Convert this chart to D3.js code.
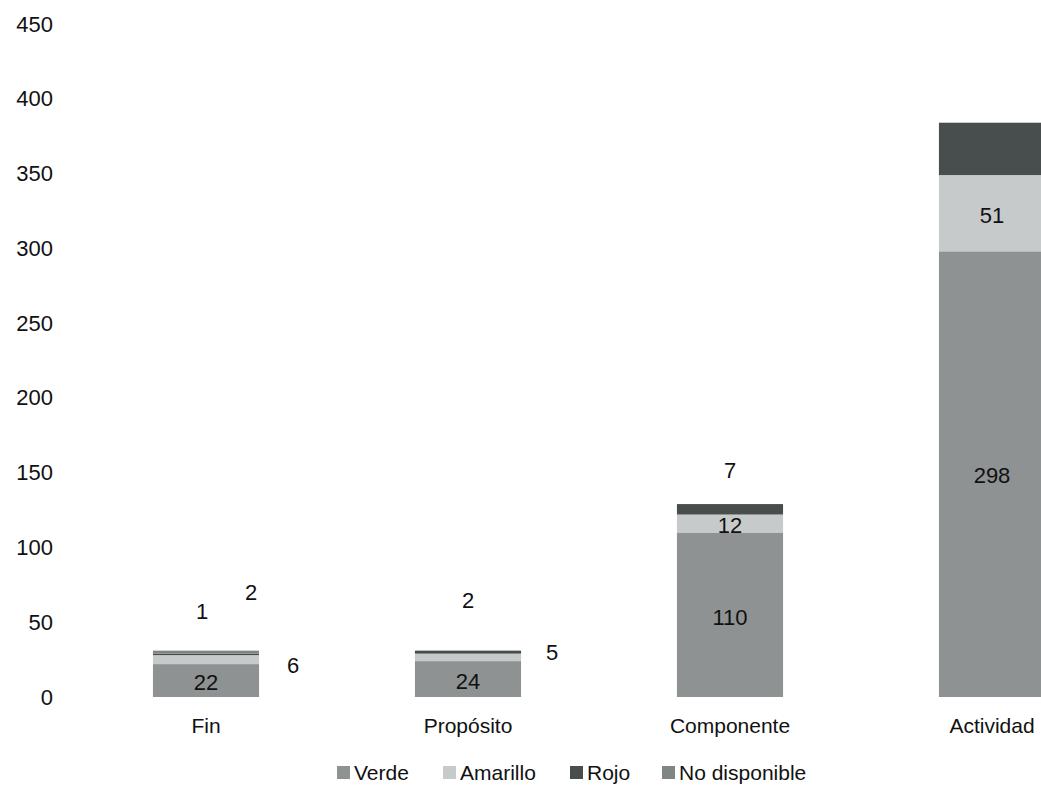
<!DOCTYPE html>
<html>
<head>
<meta charset="utf-8">
<script src="https://cdn.jsdelivr.net/npm/d3@7"></script>
<style>
    body { margin: 0; background: #fff; }
    text { font-family: "Liberation Sans", Arial, sans-serif; fill: #111; }
</style>
</head>
<body>
<div id="chart"></div>
<script>
const categories = ["Fin", "Propósito", "Componente", "Actividad"];
const seriesNames = ["Verde", "Amarillo", "Rojo", "No disponible"];
const verde = [22, 24, 110, 298];
const amarillo = [6, 5, 12, 51];
const rojo = [1, 2, 7, 35];
const noDisponible = [2, 0, 0, 0];
const yTicks = [0, 50, 100, 150, 200, 250, 300, 350, 400, 450];

// which labels are shown and where they sit, relative to the segment middle
const showLabel = [
    [true, true, true, true],
    [true, true, true, false],
    [true, true, true, false],
    [true, true, false, false]
];
const labelShift = [
    [[0, 2], [87, 6], [-4, -43], [45, -60]],
    [[0, 2], [84, -5], [0, -52], [0, 0]],
    [[0, 3], [0, 2], [0, -39], [0, 0]],
    [[0, 1], [0, 2], [0, 0], [0, 0]]
];

const colors = ["#8e9292", "#c6caca", "#474e4d", "#7f8684"];

const width = 1041, height = 787;

const svg = d3.select("#chart").append("svg")
    .attr("width", width)
    .attr("height", height);

const table = categories.map((c, i) => ({
    cat: c,
    "Verde": verde[i],
    "Amarillo": amarillo[i],
    "Rojo": rojo[i],
    "No disponible": noDisponible[i]
}));

const stacked = d3.stack().keys(seriesNames)(table);

const x = d3.scaleBand()
    .domain(categories)
    .range([75, 1123])
    .paddingInner(0.595)
    .paddingOuter(0.2975);

const y = d3.scaleLinear()
    .domain([0, 450])
    .range([697, 24]);

// bars
stacked.forEach((layer, k) => {
    svg.append("g")
        .attr("fill", colors[k])
        .selectAll("rect")
        .data(layer)
        .enter().append("rect")
        .attr("x", d => x(d.data.cat))
        .attr("width", x.bandwidth())
        .attr("y", d => y(d[1]))
        .attr("height", d => y(d[0]) - y(d[1]));
});

// value labels
stacked.forEach((layer, k) => {
    layer.forEach((d, i) => {
        if (!showLabel[i][k]) return;
        const s = labelShift[i][k];
        svg.append("text")
            .attr("x", x(d.data.cat) + x.bandwidth() / 2 + s[0])
            .attr("y", y((d[0] + d[1]) / 2) + s[1])
            .attr("text-anchor", "middle")
            .attr("dominant-baseline", "central")
            .style("font-size", "22px")
            .text(d[1] - d[0]);
    });
});

// y axis
const yAxis = svg.append("g")
    .attr("transform", "translate(53, 0)")
    .call(d3.axisLeft(y).tickValues(yTicks).tickSize(0).tickPadding(0));
yAxis.select(".domain").remove();
yAxis.selectAll("text")
    .style("font-size", "22px")
    .attr("font-family", null)
    .attr("fill", "#111");

// x axis
const xAxis = svg.append("g")
    .attr("transform", "translate(0, 697)")
    .call(d3.axisBottom(x).tickSize(0).tickPadding(21));
xAxis.select(".domain").remove();
xAxis.selectAll("text")
    .style("font-size", "21px")
    .attr("font-family", null)
    .attr("fill", "#111");

// legend
const legendX = [337, 443, 570, 662];
const legend = svg.append("g");
seriesNames.forEach((name, k) => {
    legend.append("rect")
        .attr("x", legendX[k])
        .attr("y", 766)
        .attr("width", 13)
        .attr("height", 13)
        .attr("fill", colors[k]);
    legend.append("text")
        .attr("x", legendX[k] + 17)
        .attr("y", 780)
        .style("font-size", "21px")
        .text(name);
});
</script>
</body>
</html>
